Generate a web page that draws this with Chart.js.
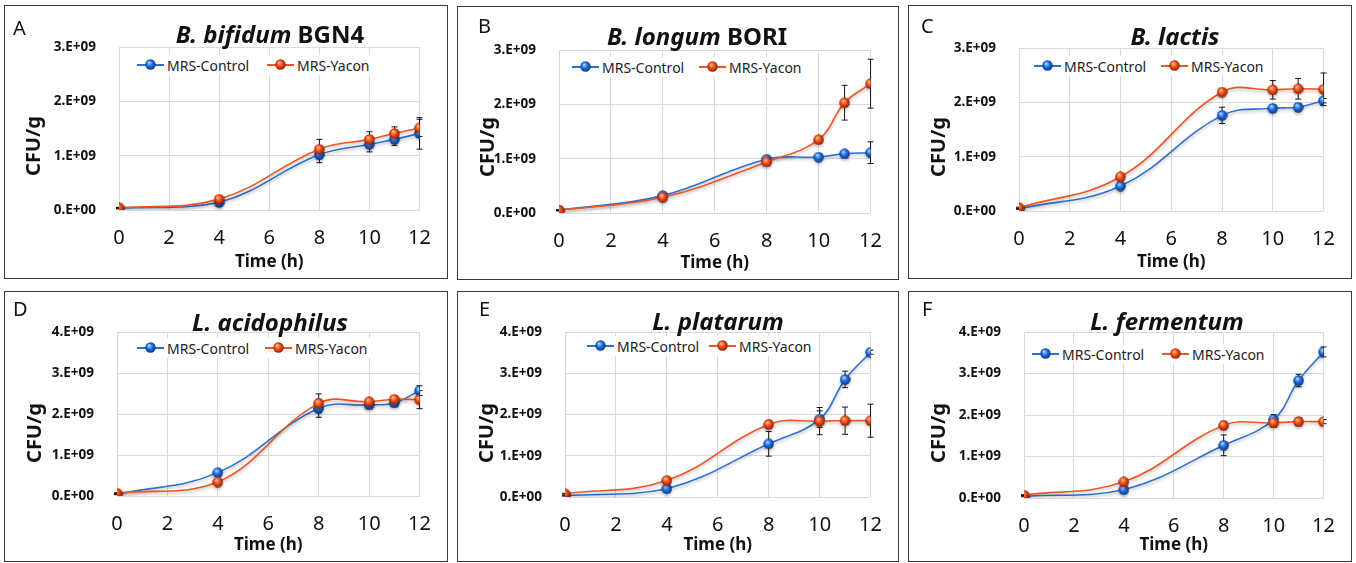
<!DOCTYPE html>
<html>
<head>
<meta charset="utf-8">
<script src="https://cdn.jsdelivr.net/npm/chart.js@4.4.1/dist/chart.umd.min.js"></script>
<style>
body{margin:0;background:#fff;width:1356px;height:563px;position:relative;overflow:hidden;font-family:'Noto Sans',sans-serif;}
.panel{position:absolute;outline:1.5px solid #3a3a3a;}
.letter{position:absolute;font-size:20px;color:#111;transform:translateY(-50%);}
.title{position:absolute;font-weight:bold;font-size:24px;transform:translate(-50%,-50%);white-space:nowrap;color:#111;}
.ylab{position:absolute;font-weight:bold;font-size:20px;transform:translate(-50%,-50%) rotate(-90deg);white-space:nowrap;color:#111;}
.lg{position:absolute;background:#fff;display:flex;align-items:center;font-size:14px;color:#222;height:20px;transform:translateY(-50%);padding-right:6px;}
.key{position:relative;width:27px;height:12px;margin-right:3px;}
.key .ln{position:absolute;left:0;right:0;top:5px;height:2px;}
.key img{position:absolute;left:8px;top:0;}
</style>
</head>
<body>
<script>
const hours = [0, 4, 8, 10, 11, 12];
const seriesNames = ['MRS-Control', 'MRS-Yacon'];
const yTicks3 = ['0.E+00', '1.E+09', '2.E+09', '3.E+09'];
const yTicks4 = ['0.E+00', '1.E+09', '2.E+09', '3.E+09', '4.E+09'];

// A  B. bifidum BGN4
const controlA = [0.03e9, 0.14e9, 1.02e9, 1.21e9, 1.30e9, 1.41e9];
const yaconA   = [0.04e9, 0.20e9, 1.12e9, 1.30e9, 1.41e9, 1.51e9];
const controlErrA = [0.01e9, 0.02e9, 0.15e9, 0.14e9, 0.11e9, 0.29e9];
const yaconErrA   = [0.01e9, 0.03e9, 0.18e9, 0.14e9, 0.12e9, 0.16e9];
// B  B. longum BORI
const controlB = [0.05e9, 0.32e9, 0.99e9, 1.03e9, 1.09e9, 1.11e9];
const yaconB   = [0.05e9, 0.29e9, 0.94e9, 1.35e9, 2.03e9, 2.38e9];
const controlErrB = [0.01e9, 0.03e9, 0.05e9, 0.04e9, 0.05e9, 0.20e9];
const yaconErrB   = [0.01e9, 0.03e9, 0.05e9, 0.05e9, 0.32e9, 0.45e9];
// C  B. lactis
const controlC = [0.04e9, 0.46e9, 1.76e9, 1.89e9, 1.91e9, 2.03e9];
const yaconC   = [0.06e9, 0.63e9, 2.19e9, 2.23e9, 2.25e9, 2.24e9];
const controlErrC = [0.01e9, 0.03e9, 0.15e9, 0.07e9, 0.07e9, 0.04e9];
const yaconErrC   = [0.01e9, 0.04e9, 0.05e9, 0.17e9, 0.19e9, 0.30e9];
// D  L. acidophilus
const controlD = [0.04e9, 0.57e9, 2.14e9, 2.22e9, 2.27e9, 2.57e9];
const yaconD   = [0.07e9, 0.34e9, 2.26e9, 2.30e9, 2.36e9, 2.35e9];
const controlErrD = [0.01e9, 0.03e9, 0.22e9, 0.08e9, 0.09e9, 0.12e9];
const yaconErrD   = [0.01e9, 0.04e9, 0.23e9, 0.06e9, 0.06e9, 0.22e9];
// E  L. platarum
const controlE = [0.03e9, 0.20e9, 1.29e9, 1.89e9, 2.85e9, 3.51e9];
const yaconE   = [0.08e9, 0.40e9, 1.76e9, 1.84e9, 1.85e9, 1.85e9];
const controlErrE = [0.01e9, 0.03e9, 0.30e9, 0.20e9, 0.20e9, 0.05e9];
const yaconErrE   = [0.01e9, 0.03e9, 0.10e9, 0.33e9, 0.33e9, 0.40e9];
// F  L. fermentum
const controlF = [0.04e9, 0.20e9, 1.27e9, 1.89e9, 2.83e9, 3.52e9];
const yaconF   = [0.07e9, 0.39e9, 1.75e9, 1.81e9, 1.84e9, 1.84e9];
const controlErrF = [0.01e9, 0.03e9, 0.25e9, 0.12e9, 0.15e9, 0.12e9];
const yaconErrF   = [0.01e9, 0.03e9, 0.10e9, 0.10e9, 0.10e9, 0.05e9];

const panels = [
  {letter:'A', title:['B. bifidum',' BGN4'], c:controlA, y:yaconA, ce:controlErrA, ye:yaconErrA, ticks:yTicks3},
  {letter:'B', title:['B. longum',' BORI'], c:controlB, y:yaconB, ce:controlErrB, ye:yaconErrB, ticks:yTicks3},
  {letter:'C', title:['B. lactis',''], c:controlC, y:yaconC, ce:controlErrC, ye:yaconErrC, ticks:yTicks3},
  {letter:'D', title:['L. acidophilus',''], c:controlD, y:yaconD, ce:controlErrD, ye:yaconErrD, ticks:yTicks4},
  {letter:'E', title:['L. platarum',''], c:controlE, y:yaconE, ce:controlErrE, ye:yaconErrE, ticks:yTicks4},
  {letter:'F', title:['L. fermentum',''], c:controlF, y:yaconF, ce:controlErrF, ye:yaconErrF, ticks:yTicks4}
];

// page layout (px): panel boxes, plot areas, text anchors
const boxes = [[5,6,447,278],[458,7,898,279],[909,6,1351,278],[5,292,447,561],[458,292,898,561],[909,292,1351,561]];
const plots = [[119,47,428,210],[559,50,880,213],[1019,48,1330,211],[117,332,428,496],[565,332,880,497],[1024,332,1332,498]];
const titlePos = [[270,33],[697,35],[1175,35],[270,321],[718,320],[1167,320]];
const letterPos = [[13,27],[478,25],[921,25],[13,308],[479,308],[922,308]];
const ylabPos = [[32,146],[486,147],[937,147],[33,433],[485,433],[937,433]];
const legendPos = [[137,267,65],[572,699,67],[1034,1161,66],[137,265,348],[587,709,346],[1032,1162,354]];

const blueLine = '#2f6fd0', redLine = '#ee5524';

function sphere(light, mid, dark) {
  const c = document.createElement('canvas');
  c.width = c.height = 11;
  const g = c.getContext('2d');
  const grd = g.createRadialGradient(4, 3.5, 0.5, 5.5, 5.5, 5.6);
  grd.addColorStop(0, light);
  grd.addColorStop(0.45, mid);
  grd.addColorStop(1, dark);
  g.fillStyle = grd;
  g.beginPath();
  g.arc(5.5, 5.5, 5.2, 0, Math.PI * 2);
  g.fill();
  return c;
}
const blueBall = sphere('#a8d4ff', '#1f6fe0', '#07307e');
const redBall = sphere('#ffb585', '#f0501a', '#8a1800');

const errorBars = {
  id: 'errorBars',
  beforeDatasetsDraw(chart, args, opts) {
    const {ctx, scales: {x, y}} = chart;
    ctx.save();
    ctx.strokeStyle = '#111';
    ctx.lineWidth = 1;
    chart.data.datasets.forEach((ds, di) => {
      const errs = opts.errors[di];
      ds.data.forEach((p, i) => {
        const e = errs[i];
        if (!e) return;
        const px = x.getPixelForValue(p.x);
        const top = y.getPixelForValue(p.y + e), bot = y.getPixelForValue(p.y - e);
        ctx.beginPath();
        ctx.moveTo(px, top); ctx.lineTo(px, bot);
        ctx.moveTo(px - 3, top); ctx.lineTo(px + 3, top);
        ctx.moveTo(px - 3, bot); ctx.lineTo(px + 3, bot);
        ctx.stroke();
      });
    });
    ctx.restore();
  }
};

const lineShadow = {
  id: 'lineShadow',
  beforeDatasetDraw(chart) {
    const ctx = chart.ctx;
    ctx.save();
    ctx.shadowColor = 'rgba(0,0,0,0.25)';
    ctx.shadowBlur = 3;
    ctx.shadowOffsetY = 2;
  },
  afterDatasetDraw(chart) {
    chart.ctx.restore();
  }
};

function addText(cls, x, y, html) {
  const d = document.createElement('div');
  d.className = cls;
  d.style.left = x + 'px';
  d.style.top = y + 'px';
  d.innerHTML = html;
  document.body.appendChild(d);
  return d;
}

function legendItem(x, y, name, color, ball) {
  addText('lg', x, y, '<div class="key"><div class="ln" style="background:' + color + '"></div><img src="' + ball.toDataURL() + '"></div>' + name);
}

panels.forEach((p, k) => {
  const [bl, bt, br, bb] = boxes[k];
  const [pl, pt, pr, pb] = plots[k];
  const wrap = document.createElement('div');
  wrap.className = 'panel';
  wrap.style.left = bl + 'px';
  wrap.style.top = bt + 'px';
  wrap.style.width = (br - bl) + 'px';
  wrap.style.height = (bb - bt) + 'px';
  const cv = document.createElement('canvas');
  wrap.appendChild(cv);
  document.body.appendChild(wrap);

  new Chart(cv, {
    type: 'line',
    data: {
      datasets: [
        {label: seriesNames[0], data: hours.map((h, i) => ({x: h, y: p.c[i]})), borderColor: blueLine, borderWidth: 1.6,
         pointStyle: blueBall, tension: 0.4, order: 1},
        {label: seriesNames[1], data: hours.map((h, i) => ({x: h, y: p.y[i]})), borderColor: redLine, borderWidth: 1.6,
         pointStyle: redBall, tension: 0.4, order: 0}
      ]
    },
    options: {
      responsive: true,
      maintainAspectRatio: false,
      animation: false,
      layout: {padding: {left: 0, top: pt - bt, right: br - pr, bottom: 0}},
      plugins: {
        legend: {display: false},
        tooltip: {enabled: false},
        errorBars: {errors: [p.ce, p.ye]}
      },
      scales: {
        x: {
          type: 'linear', min: 0, max: 12,
          afterFit: s => { s.height = bb - pb; },
          grid: {color: '#d9d9d9', drawTicks: false},
          border: {display: false},
          ticks: {stepSize: 2, padding: 16, color: '#111', font: {family: 'Noto Sans', size: 20}},
          title: {display: true, text: 'Time (h)', color: '#111', padding: {top: 0, bottom: 6},
                  font: {family: 'Noto Sans', size: 17, weight: 'bold'}}
        },
        y: {
          min: 0, max: (p.ticks.length - 1) * 1e9,
          afterFit: s => { s.width = pl - bl; },
          grid: {color: '#d9d9d9', drawTicks: false},
          border: {display: false},
          ticks: {stepSize: 1e9, padding: 23, color: '#111', font: {family: 'Noto Sans', size: 13.5, weight: 'bold'},
                  callback: (v, i) => p.ticks[i]}
        }
      }
    },
    plugins: [errorBars, lineShadow]
  });

  addText('letter', letterPos[k][0], letterPos[k][1], p.letter);
  addText('title', titlePos[k][0], titlePos[k][1], '<i>' + p.title[0] + '</i>' + p.title[1]);
  addText('ylab', ylabPos[k][0], ylabPos[k][1], 'CFU/g');
  legendItem(legendPos[k][0], legendPos[k][2], seriesNames[0], blueLine, blueBall);
  legendItem(legendPos[k][1], legendPos[k][2], seriesNames[1], redLine, redBall);
});
</script>
</body>
</html>
